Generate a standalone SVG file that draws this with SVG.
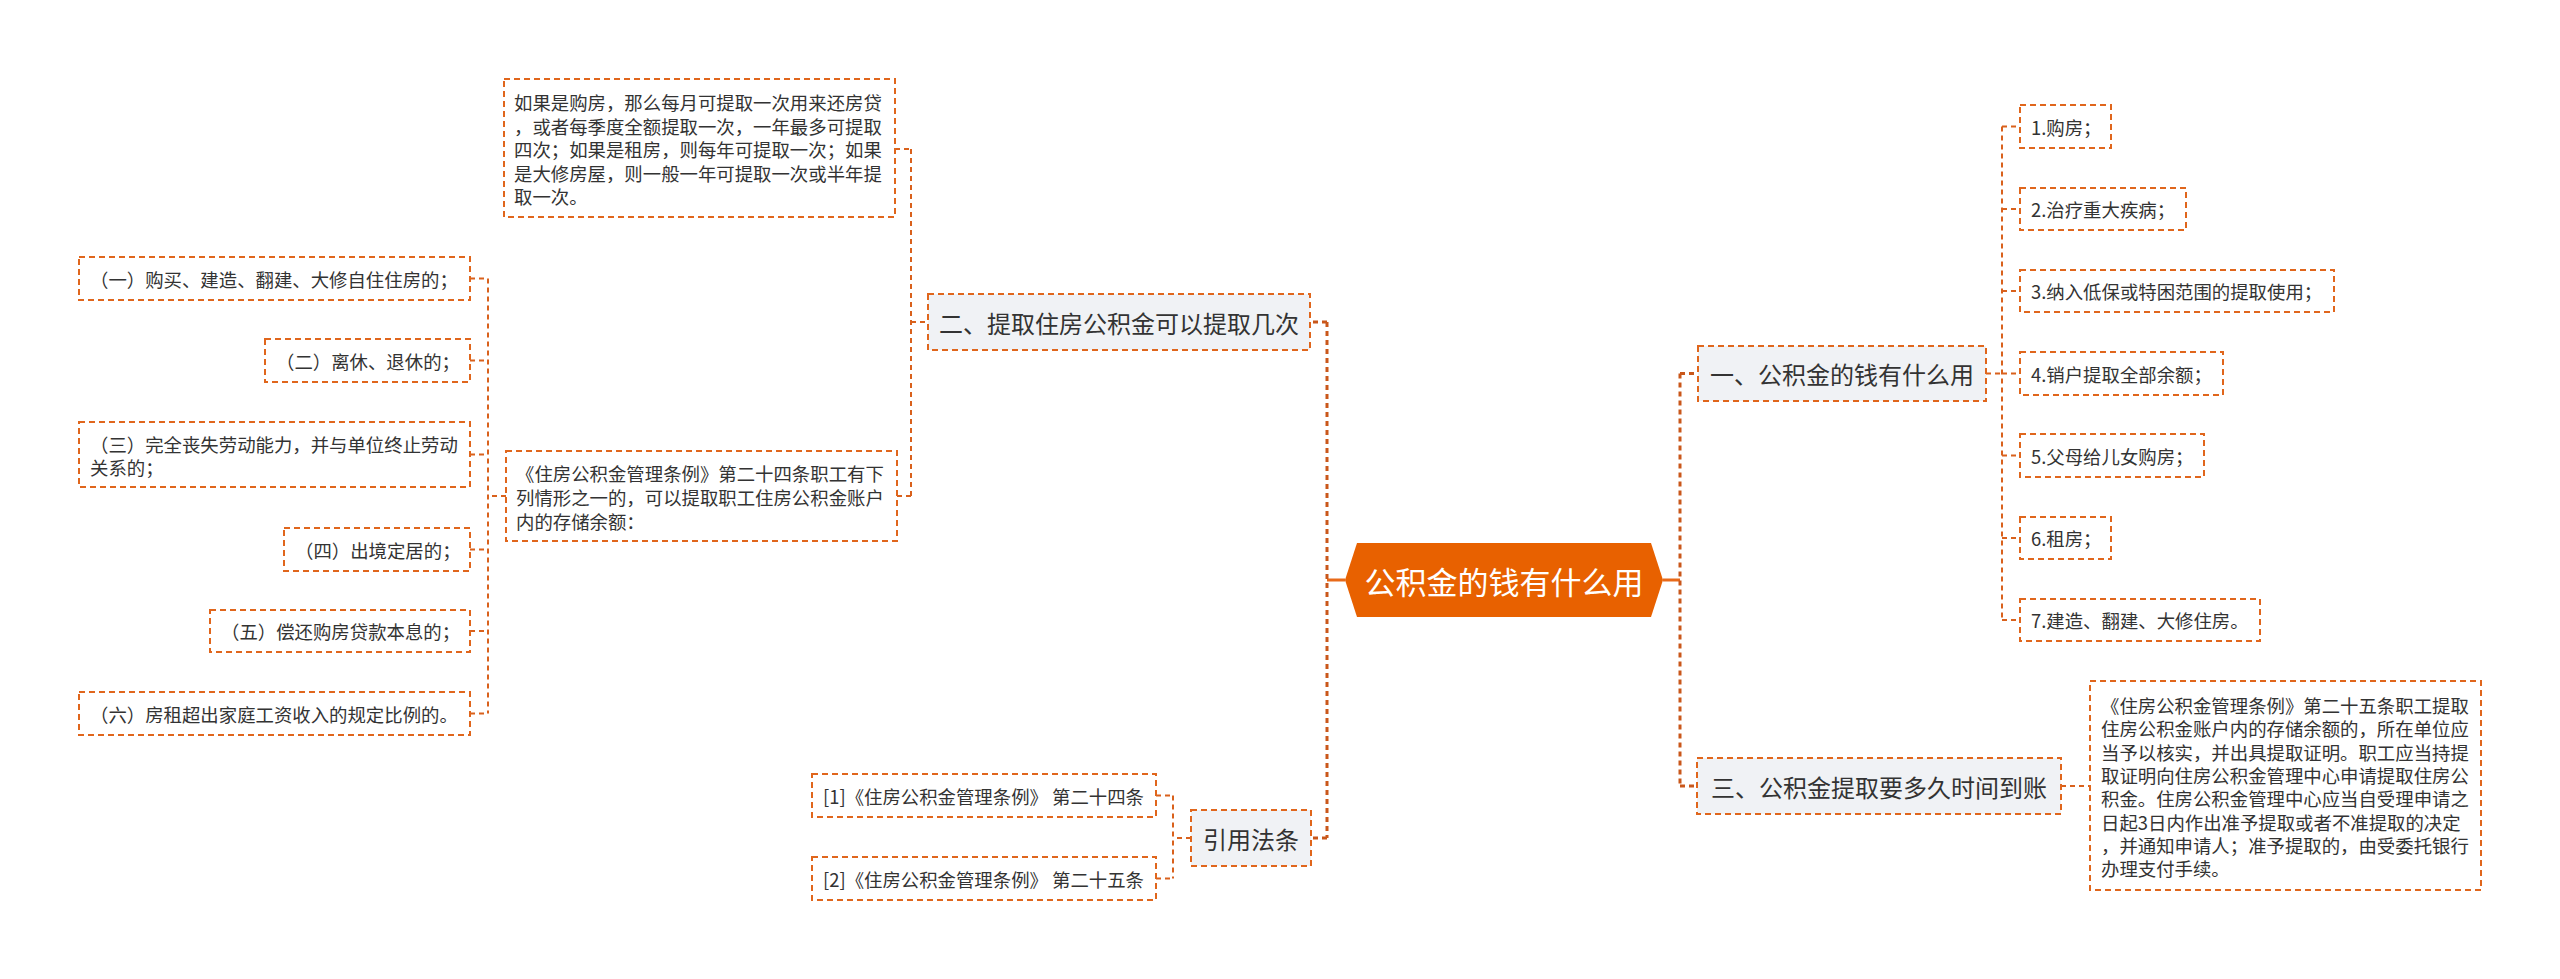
<svg xmlns="http://www.w3.org/2000/svg" width="2560" height="979" viewBox="0 0 2560 979">
<style>
text{font-family:"Noto Sans CJK SC","Noto Sans",sans-serif;fill:#333333;dominant-baseline:central}
.leaf{fill:#FFFFFF;stroke:#E0661C;stroke-width:2;stroke-dasharray:6 4}
.sub{fill:#F0F2F5;stroke:#E0661C;stroke-width:2;stroke-dasharray:6 4}
.t18{font-size:18.4px}
.t24{font-size:24px}
.c1{fill:none;stroke:#C9571A;stroke-width:3;stroke-dasharray:5 4}
.c2{fill:none;stroke:#D9611C;stroke-width:2;stroke-dasharray:5 4}
.solid{fill:none;stroke:#E86A1A;stroke-width:3}
</style>
<rect x="0" y="0" width="2560" height="979" fill="#FFFFFF"/>
<g id="connectors">
<path class="solid" d="M1345 580H1327M1663 580H1680"/>
<path class="c1" d="M1327 322V838M1327 322H1310M1327 838H1311"/>
<path class="c1" d="M1680 373.5V786M1680 373.5H1698M1680 786H1697"/>
<path class="c2" d="M911 149V496M911 322H928M895 149H911M897 496H911"/>
<path class="c2" d="M488 278.5V713.5M506 496H488M470 278.5H488M470 360.5H488M470 454.5H488M470 549.5H488M470 631H488M470 713.5H488"/>
<path class="c2" d="M2002 126.5V620M1986 373.5H2002M2002 126.5H2020M2002 209H2020M2002 291H2020M2002 373.5H2020M2002 455.5H2020M2002 538H2020M2002 620H2020"/>
<path class="c2" d="M2061 786H2090"/>
<path class="c2" d="M1173 795.5V878.5M1191 838H1173M1156 795.5H1173M1156 878.5H1173"/>
</g>
<g id="center">
<polygon points="1345,580 1357,543 1651,543 1663,580 1651,617 1357,617" fill="#E86100"/>
<text x="1504" y="580" text-anchor="middle" style="font-size:31px;fill:#FFFFFF">公积金的钱有什么用</text>
</g>
<g id="n2">
<rect class="sub" x="928" y="294" width="382" height="56"/>
<text class="t24" x="1119" y="322" text-anchor="middle">二、提取住房公积金可以提取几次</text>
</g>
<g id="n1">
<rect class="sub" x="1698" y="346" width="288" height="55"/>
<text class="t24" x="1842" y="373.5" text-anchor="middle">一、公积金的钱有什么用</text>
</g>
<g id="n3">
<rect class="sub" x="1697" y="758" width="364" height="56"/>
<text class="t24" x="1879" y="786" text-anchor="middle">三、公积金提取要多久时间到账</text>
</g>
<g id="n4">
<rect class="sub" x="1191" y="810" width="120" height="56"/>
<text class="t24" x="1251" y="838" text-anchor="middle">引用法条</text>
</g>
<g id="leafA">
<rect class="leaf" x="504" y="79" width="391" height="138"/>
<text class="t18" x="514" y="102">如果是购房，那么每月可提取一次用来还房贷</text>
<text class="t18" x="514" y="125.5">，或者每季度全额提取一次，一年最多可提取</text>
<text class="t18" x="514" y="149">四次；如果是租房，则每年可提取一次；如果</text>
<text class="t18" x="514" y="172.5">是大修房屋，则一般一年可提取一次或半年提</text>
<text class="t18" x="514" y="196">取一次。</text>
</g>
<g id="leafB">
<rect class="leaf" x="506" y="451" width="391" height="90"/>
<text class="t18" x="516" y="473">《住房公积金管理条例》第二十四条职工有下</text>
<text class="t18" x="516" y="497">列情形之一的，可以提取职工住房公积金账户</text>
<text class="t18" x="516" y="521">内的存储余额：</text>
</g>
<g id="b1">
<rect class="leaf" x="79" y="257" width="391" height="43"/>
<text class="t18" x="90" y="278.5">（一）购买、建造、翻建、大修自住住房的；</text>
</g>
<g id="b2">
<rect class="leaf" x="265" y="339" width="205" height="43"/>
<text class="t18" x="276" y="360.5">（二）离休、退休的；</text>
</g>
<g id="b3">
<rect class="leaf" x="79" y="422" width="391" height="65"/>
<text class="t18" x="90" y="443.5">（三）完全丧失劳动能力，并与单位终止劳动</text>
<text class="t18" x="90" y="466.5">关系的；</text>
</g>
<g id="b4">
<rect class="leaf" x="284" y="528" width="186" height="43"/>
<text class="t18" x="295" y="549.5">（四）出境定居的；</text>
</g>
<g id="b5">
<rect class="leaf" x="210" y="610" width="260" height="42"/>
<text class="t18" x="221" y="631">（五）偿还购房贷款本息的；</text>
</g>
<g id="b6">
<rect class="leaf" x="79" y="692" width="391" height="43"/>
<text class="t18" x="90" y="713.5">（六）房租超出家庭工资收入的规定比例的。</text>
</g>
<g id="r1">
<rect class="leaf" x="2020" y="105" width="91" height="43"/>
<text class="t18" x="2031" y="126.5">1.购房；</text>
</g>
<g id="r2">
<rect class="leaf" x="2020" y="188" width="166" height="42"/>
<text class="t18" x="2031" y="209">2.治疗重大疾病；</text>
</g>
<g id="r3">
<rect class="leaf" x="2020" y="270" width="314" height="42"/>
<text class="t18" x="2031" y="291">3.纳入低保或特困范围的提取使用；</text>
</g>
<g id="r4">
<rect class="leaf" x="2020" y="352" width="203" height="43"/>
<text class="t18" x="2031" y="373.5">4.销户提取全部余额；</text>
</g>
<g id="r5">
<rect class="leaf" x="2020" y="434" width="184" height="43"/>
<text class="t18" x="2031" y="455.5">5.父母给儿女购房；</text>
</g>
<g id="r6">
<rect class="leaf" x="2020" y="517" width="91" height="42"/>
<text class="t18" x="2031" y="538">6.租房；</text>
</g>
<g id="r7">
<rect class="leaf" x="2020" y="599" width="240" height="42"/>
<text class="t18" x="2031" y="620">7.建造、翻建、大修住房。</text>
</g>
<g id="r8">
<rect class="leaf" x="2090" y="681" width="391" height="209"/>
<text class="t18" x="2101" y="705">《住房公积金管理条例》第二十五条职工提取</text>
<text class="t18" x="2101" y="728.3">住房公积金账户内的存储余额的，所在单位应</text>
<text class="t18" x="2101" y="751.6">当予以核实，并出具提取证明。职工应当持提</text>
<text class="t18" x="2101" y="774.9">取证明向住房公积金管理中心申请提取住房公</text>
<text class="t18" x="2101" y="798.2">积金。住房公积金管理中心应当自受理申请之</text>
<text class="t18" x="2101" y="821.5">日起3日内作出准予提取或者不准提取的决定</text>
<text class="t18" x="2101" y="844.8">，并通知申请人；准予提取的，由受委托银行</text>
<text class="t18" x="2101" y="868.1">办理支付手续。</text>
</g>
<g id="l1">
<rect class="leaf" x="812" y="774" width="344" height="43"/>
<text class="t18" x="823" y="795.5">[1]《住房公积金管理条例》 第二十四条</text>
</g>
<g id="l2">
<rect class="leaf" x="812" y="857" width="344" height="43"/>
<text class="t18" x="823" y="878.5">[2]《住房公积金管理条例》 第二十五条</text>
</g>
</svg>
